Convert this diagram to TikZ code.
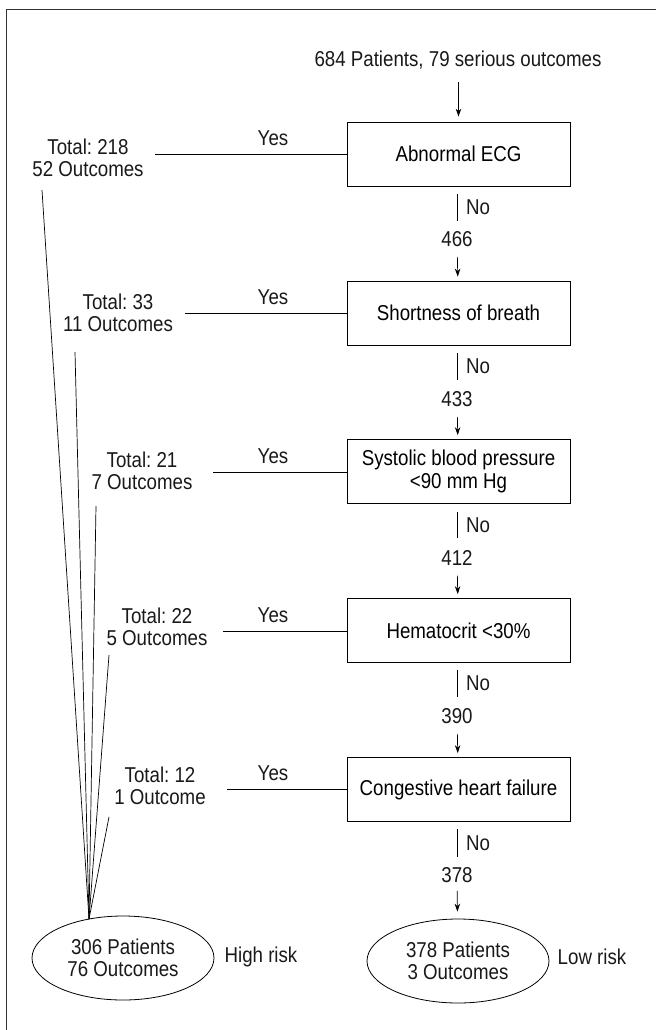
\documentclass[tikz,border=0pt]{standalone}
\usepackage{fontspec}
\setmainfont{Liberation Sans}[FakeStretch=0.87]
\usetikzlibrary{arrows.meta,shapes.geometric}
\frenchspacing
\begin{document}
\begin{tikzpicture}[x=1pt,y=-1pt,
  font=\fontsize{21.5}{22.5}\selectfont,
  box/.style={draw, line width=0.8pt, minimum width=223pt, minimum height=64pt, inner sep=0pt, align=center},
  lbl/.style={inner sep=0pt, align=center, text=black!90},
  ln/.style={line width=0.7pt},
  arr/.style={ln, -{Stealth[length=8pt,width=5.5pt]}, shorten <=10pt, shorten >=4pt},
  oval/.style={draw, ellipse, line width=0.8pt, minimum width=182pt, minimum height=84pt, inner sep=0pt, align=center, text=black!90}]
\useasboundingbox (0,0) rectangle (656,1030);
% frame
\draw[line width=1pt, black!80] (6,1030) -- (6,10) -- (656,10);

% top
\node[lbl] (start) at (458,60) {684 Patients, 79 serious outcomes};

% boxes
\node[box] (b1) at (458.5,154) {Abnormal ECG};
\node[box] (b2) at (458.5,313) {Shortness of breath};
\node[box] (b3) at (458.5,471.5) {Systolic blood pressure\\<90 mm Hg};
\node[box] (b4) at (458.5,630.5) {Hematocrit <30\%};
\node[box] (b5) at (458.5,789.5) {Congestive heart failure};

% counts
\node[lbl] (n1) at (457,239) {466};
\node[lbl] (n2) at (457,399) {433};
\node[lbl] (n3) at (457,558) {412};
\node[lbl] (n4) at (457,716) {390};
\node[lbl] (n5) at (457,875) {378};

% arrows
\draw[arr, shorten <=13pt, shorten >=5pt] (start.south -| b1.north) -- (b1);
\draw[arr] (n1) -- (b2);
\draw[arr] (n2) -- (b3);
\draw[arr] (n3) -- (b4);
\draw[arr] (n4) -- (b5);

% No segments
\foreach \i/\a/\b in {1/194/221, 2/353/380, 3/512/538, 4/670/697, 5/829/857}{
  \coordinate (nt\i) at (457,\a);
  \coordinate (nb\i) at (457,\b);
  \draw[ln] (nt\i) -- (nb\i);
  \node[lbl, anchor=west] (no\i) at (466,{(\a+\b)/2}) {No};
}

% Yes lines
\foreach \i/\x/\y in {1/155/154, 2/185/313, 3/213/472, 4/223/631, 5/227/789}{
  \coordinate (ys\i) at (\x,\y);
  \draw[ln] (ys\i) -- (b\i.west |- ys\i);
  \node[lbl] (yes\i) at (273,\y-16) {Yes};
}

% Totals
\node[lbl] (t1) at (88,158) {Total: 218\\52 Outcomes};
\node[lbl] (t2) at (118,313) {Total: 33\\11 Outcomes};
\node[lbl] (t3) at (142,471) {Total: 21\\7 Outcomes};
\node[lbl] (t4) at (157,627) {Total: 22\\5 Outcomes};
\node[lbl] (t5) at (160,786) {Total: 12\\1 Outcome};

% final ovals
\node[oval] (high) at (123,958) {306 Patients\\76 Outcomes};
\node[oval] (low) at (458,961) {378 Patients\\3 Outcomes};
\node[lbl] (hr) at (261,957) {High risk};
\node[lbl] (lr) at (592,957) {Low risk};
\draw[arr, shorten <=8pt, shorten >=7pt] (n5) -- (low);

% fan
\coordinate (apex) at (89,919);
\coordinate (f1) at (42,190);
\coordinate (f2) at (75,352);
\coordinate (f3) at (96,506);
\coordinate (f4) at (109,655);
\coordinate (f5) at (109,817);
\foreach \i in {1,...,5}{\draw[ln] (f\i) -- (apex);}
\end{tikzpicture}
\end{document}
